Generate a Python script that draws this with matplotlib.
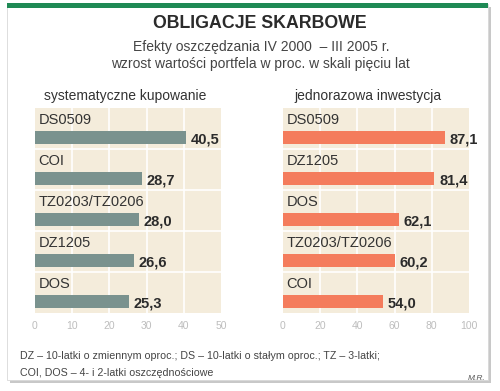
import matplotlib.pyplot as plt
from matplotlib.patches import Rectangle

plt.rcParams['font.family'] = ['Liberation Sans', 'DejaVu Sans']

left_names = ["DS0509", "COI", "TZ0203/TZ0206", "DZ1205", "DOS"]
left_values = [40.5, 28.7, 28.0, 26.6, 25.3]
right_names = ["DS0509", "DZ1205", "DOS", "TZ0203/TZ0206", "COI"]
right_values = [87.1, 81.4, 62.1, 60.2, 54.0]

W, H = 500, 391
fig = plt.figure(figsize=(W / 100, H / 100), dpi=100)
fig.patch.set_facecolor('white')


def fx(px):
    return px / W


def fy(py):
    return 1 - py / H


# card with shadow
fig.patches.append(Rectangle((fx(10), fy(383)), fx(481), 376 / H, transform=fig.transFigure,
                             facecolor='#c8c8c8', edgecolor='none', zorder=-2))
fig.patches.append(Rectangle((fx(7), fy(380)), fx(481), 376 / H, transform=fig.transFigure,
                             facecolor='white', edgecolor='#d8d8d8', lw=0.6, zorder=-1))
fig.patches.append(Rectangle((fx(7), fy(8)), fx(481), 5 / H, transform=fig.transFigure,
                             facecolor='#1f8a55', edgecolor='none', zorder=-1))

fig.text(fx(260), fy(23), "OBLIGACJE SKARBOWE", ha='center', va='center',
         fontsize=12.8, fontweight='bold', color='#2b2b2b')
fig.text(fx(261), fy(47), "Efekty oszczędzania IV 2000  – III 2005 r.", ha='center', va='center',
         fontsize=10, color='#444444')
fig.text(fx(260), fy(64), "wzrost wartości portfela w proc. w skali pięciu lat", ha='center', va='center',
         fontsize=10, color='#444444')


def panel(x0, x1, names, values, xmax, step, color, title, title_x):
    ax = fig.add_axes([fx(x0), fy(313), fx(x1 - x0), 205 / H])
    ax.set_zorder(5)
    ax.set_facecolor('#f4ecdb')
    n = len(names)
    ys = [i + 0.72 for i in range(n)]
    ax.barh(ys, values, height=0.32, color=color, zorder=3)
    for i, (nm, v) in enumerate(zip(names, values)):
        ax.text(xmax * 0.02, i + 0.29, nm, ha='left', va='center', fontsize=10.5, color='#333333', zorder=4)
        ax.text(v + xmax * 0.025, i + 0.76, f"{v:.1f}".replace('.', ','), ha='left', va='center',
                fontsize=10.5, fontweight='bold', color='#2b2b2b', zorder=4)
    for i in range(1, n):
        ax.axhline(i, color='white', lw=1.2, zorder=2)
    for t in range(step, xmax, step):
        ax.axvline(t, color='white', lw=1.2, zorder=2)
    ax.set_xlim(0, xmax)
    ax.set_ylim(n, 0)
    ax.set_yticks([])
    ax.set_xticks(range(0, xmax + 1, step))
    ax.tick_params(axis='x', length=0, labelsize=7.5, labelcolor='#bdbdbd', pad=6)
    for s in ax.spines.values():
        s.set_visible(False)
    fig.text(fx(title_x), fy(96), title, ha='center', va='center', fontsize=10, color='#333333')
    return ax


panel(35, 221, left_names, left_values, 50, 10, '#7a928e', "systematyczne kupowanie", 125)
panel(283, 469, right_names, right_values, 100, 20, '#f47c5c', "jednorazowa inwestycja", 368)

fig.text(fx(20), fy(356), "DZ – 10-latki o zmiennym oproc.; DS – 10-latki o stałym oproc.; TZ – 3-latki;",
         ha='left', va='center', fontsize=7.7, color='#444444')
fig.text(fx(20), fy(373), "COI, DOS – 4- i 2-latki oszczędnościowe",
         ha='left', va='center', fontsize=7.7, color='#444444')
fig.text(fx(485), fy(378), "M.R.", ha='right', va='center', fontsize=6, style='italic', color='#555555')

fig.savefig('out.png', dpi=100)
